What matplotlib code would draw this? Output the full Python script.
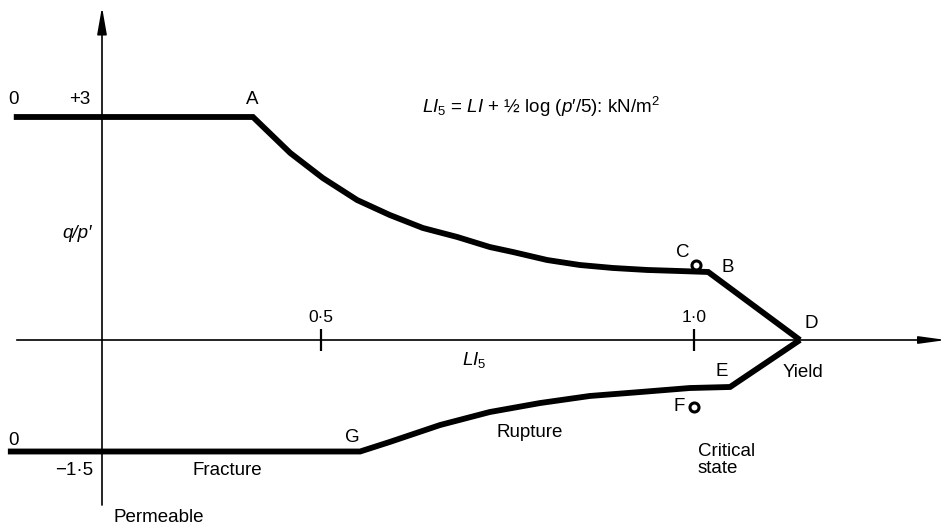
import matplotlib
matplotlib.use("Agg")
import matplotlib.pyplot as plt

plt.rcParams['font.family'] = ['Liberation Sans', 'DejaVu Sans']
plt.rcParams['mathtext.fontset'] = 'custom'
plt.rcParams['mathtext.rm'] = 'Liberation Sans'
plt.rcParams['mathtext.it'] = 'Liberation Sans:italic'
plt.rcParams['mathtext.bf'] = 'Liberation Sans:bold'

# Schematic LI5 position (1.0 tick at 1.0) and q/p' values
upper_x = [-0.149, 0.255, 0.318, 0.373, 0.431, 0.486, 0.542, 0.600, 0.655,
           0.694, 0.752, 0.807, 0.863, 0.921, 0.976, 1.024, 1.179]
upper_y = [3.0, 3.0, 2.516, 2.179, 1.883, 1.682, 1.507, 1.386, 1.251,
           1.184, 1.076, 1.009, 0.969, 0.942, 0.928, 0.915, 0.0]
lower_x = [-0.159, 0.436, 0.486, 0.571, 0.655, 0.740, 0.824, 0.909, 0.993, 1.061, 1.179]
lower_y = [-1.5, -1.5, -1.372, -1.144, -0.969, -0.848, -0.753, -0.700, -0.646, -0.632, 0.0]
points_x = [1.003, 1.0]
points_y = [1.009, -0.901]
tick_pos = [0.370, 1.0]
tick_labels = ['0·5', '1·0']

fig = plt.figure(figsize=(9.47, 5.30), dpi=100)
ax = fig.add_axes([0, 0, 1, 1])
ax.set_xlim(-0.1723, 1.4274)
ax.set_ylim(-2.556, 4.574)
ax.axis('off')

# axes with arrows
ax.annotate('', xy=(1.426, 0), xytext=(-0.144, 0),
            arrowprops=dict(arrowstyle='-|>,head_length=1.6,head_width=0.22', lw=1.2,
                            color='black', mutation_scale=10, shrinkA=0, shrinkB=0))
ax.annotate('', xy=(0, 4.48), xytext=(0, -2.22),
            arrowprops=dict(arrowstyle='-|>,head_length=1.65,head_width=0.29', lw=1.2,
                            color='black', mutation_scale=10, shrinkA=0, shrinkB=0))
ax.vlines(tick_pos, -0.15, 0.15, color='black', lw=1.6)

ax.plot(upper_x, upper_y, color='black', lw=4.2, solid_joinstyle='miter', solid_capstyle='butt')
ax.plot(lower_x, lower_y, color='black', lw=4.2, solid_joinstyle='miter', solid_capstyle='butt')
ax.plot(points_x, points_y, 'o', ms=6.5, mfc='white', mec='black', mew=2.2)

fs = 13.5
def t(px, py, s, **kw):
    x = (px - 102) / 592
    y = (340 - py) / 74.33
    kw.setdefault('fontsize', fs)
    ax.text(x, y, s, ha=kw.pop('ha', 'center'), va=kw.pop('va', 'center'), **kw)

for p, l in zip(tick_pos, tick_labels):
    t(102 + p * 592, 317, l, fontsize=12.5)

t(13, 100, '0')
t(80, 100, '+3')
t(252, 100, 'A')
t(422, 107, r"$LI_5$ = $LI$ + ½ log ($p$′/5): kN/m$^2$", ha='left', fontsize=13.5)
t(77, 234, "q/p′", style='italic')
t(683, 253, 'C')
t(728, 268, 'B')
t(811, 323, 'D')
t(474, 360, r"$LI_5$")
t(722, 371, 'E')
t(803, 372, 'Yield')
t(679, 406, 'F')
t(530, 432, 'Rupture')
t(13, 440, '0')
t(352, 437, 'G')
t(698, 460, 'Critical\nstate', ha='left', linespacing=1.05)
t(227, 470, 'Fracture')
t(74, 470, '−1·5')
t(159, 517, 'Permeable')

fig.savefig('out.png', dpi=100)
